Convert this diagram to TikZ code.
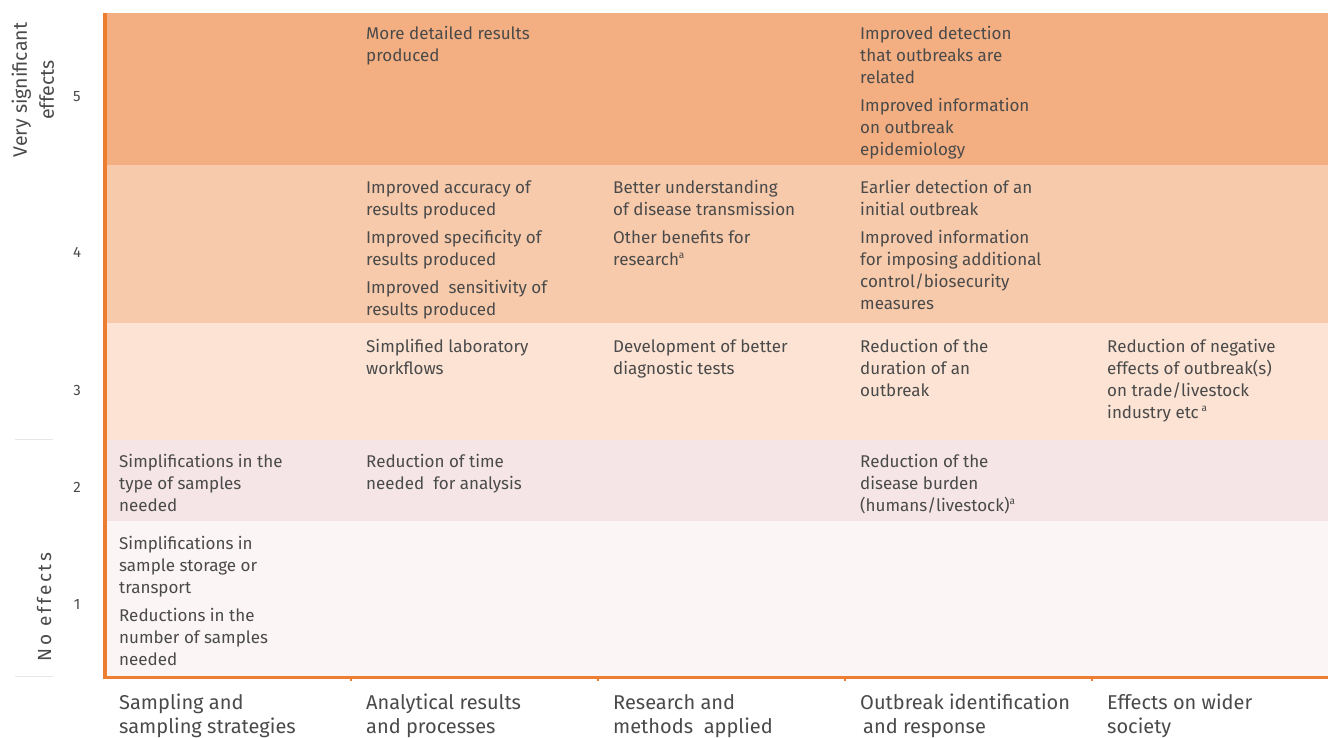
\documentclass[tikz,border=0pt]{standalone}
\usepackage{fontspec}
\setmainfont{Fira Sans}
\definecolor{bandfive}{HTML}{F3AF82}
\definecolor{bandfour}{HTML}{F7CAAB}
\definecolor{bandthree}{HTML}{FCE3D4}
\definecolor{bandtwo}{HTML}{F5E5E6}
\definecolor{bandone}{HTML}{FBF6F5}
\definecolor{axisorange}{HTML}{ED7D31}
\definecolor{txt}{HTML}{4A4A4A}
\definecolor{sidegrey}{HTML}{E6E6E6}
\newcommand\cellfont{\fontsize{17}{22}\selectfont}
\newcommand\fst{\rule{0pt}{16pt}}
\newcommand\supa{\textsuperscript{\fontsize{10}{10}\selectfont a}}
\begin{document}
\begin{tikzpicture}[x=1pt,y=-1pt,
  cell/.style={anchor=north west, inner sep=0pt, align=left, font=\cellfont, text=txt},
  catlabel/.style={anchor=north west, inner sep=0pt, align=left, font=\fontsize{20}{24}\selectfont, text=txt},
  levelnum/.style={inner sep=0pt, font=\fontsize{15}{15}\selectfont, text=txt},
  sidelabel/.style={inner sep=0pt, rotate=90, align=center, font=\fontsize{19.5}{27}\selectfont, text=txt}]
\useasboundingbox (0,0) rectangle (1328,738);
% bands
\fill[bandfive]  (105,13)  rectangle (1328,165);
\fill[bandfour]  (105,165) rectangle (1328,323);
\fill[bandthree] (105,323) rectangle (1328,440);
\fill[bandtwo]   (105,440) rectangle (1328,521);
\fill[bandone]   (105,521) rectangle (1328,677);
% side grey lines
\draw[sidegrey, line width=1pt] (15,439.5) -- (53,439.5);
\draw[sidegrey, line width=1pt] (15,676.5) -- (53,676.5);
% axes
\coordinate (top) at (105,13);
\coordinate (origin) at (105,677);
\coordinate (right) at (1328,677);
\draw[axisorange, line width=3.5pt] (top) -- (origin);
\draw[axisorange, line width=3pt] (103.25,677) -- (right);
\foreach \tx in {351,598,845,1092}{
  \draw[axisorange, line width=1.5pt] (\tx,677) -- (\tx,681);
}
% side labels
\node[sidelabel] (vse) at (33,90) {Very significant\\effects};
\node[sidelabel, font=\fontsize{19}{20}\selectfont\addfontfeature{LetterSpace=14}] (noe) at (44,607) {No effects};
\node[levelnum] (l5) at (77,97) {5};
\node[levelnum] (l4) at (77,252) {4};
\node[levelnum] (l3) at (77,390) {3};
\node[levelnum] (l2) at (77,487) {2};
\node[levelnum] (l1) at (77,604) {1};
% band 5
\node[cell] (c52) at (366,23) {\fst More detailed results\\produced};
\node[cell] (c54) at (860,23) {\fst Improved detection\\that outbreaks are\\related\\[6pt]Improved information\\on outbreak\\epidemiology};
% band 4
\node[cell] (c42) at (366,177) {\fst Improved accuracy of\\results produced\\[6pt]Improved specificity of\\results produced\\[6pt]Improved\ \ sensitivity of\\results produced};
\node[cell] (c43) at (613,177) {\fst Better understanding\\of disease transmission\\[6pt]Other benefits for\\research\supa};
\node[cell] (c44) at (860,177) {\fst Earlier detection of an\\initial outbreak\\[6pt]Improved information\\for imposing additional\\control/biosecurity\\measures};
% band 3
\node[cell] (c32) at (366,336) {\fst Simplified laboratory\\workflows};
\node[cell] (c33) at (613,336) {\fst Development of better\\diagnostic tests};
\node[cell] (c34) at (860,336) {\fst Reduction of the\\duration of an\\outbreak};
\node[cell] (c35) at (1107,336) {\fst Reduction of negative\\effects of outbreak(s)\\on trade/livestock\\industry etc\,\supa};
% band 2
\node[cell] (c21) at (119,451) {\fst Simplifications in the\\type of samples\\needed};
\node[cell] (c22) at (366,451) {\fst Reduction of time\\needed\ \ for analysis};
\node[cell] (c24) at (860,451) {\fst Reduction of the\\disease burden\\(humans/livestock)\supa};
% band 1
\node[cell] (c11) at (119,533) {\fst Simplifications in\\sample storage or\\transport\\[6pt]Reductions in the\\number of samples\\needed};
% categories
\node[catlabel] (k1) at (119,692) {\rule{0pt}{17pt}Sampling and\\sampling strategies};
\node[catlabel] (k2) at (366,692) {\rule{0pt}{17pt}Analytical results\\and processes};
\node[catlabel] (k3) at (613,692) {\rule{0pt}{17pt}Research and\\methods\ \ applied};
\node[catlabel] (k4) at (860,692) {\rule{0pt}{17pt}Outbreak identification\\\hspace*{3pt}and response};
\node[catlabel] (k5) at (1107,692) {\rule{0pt}{17pt}Effects on wider\\society};
\end{tikzpicture}
\end{document}
